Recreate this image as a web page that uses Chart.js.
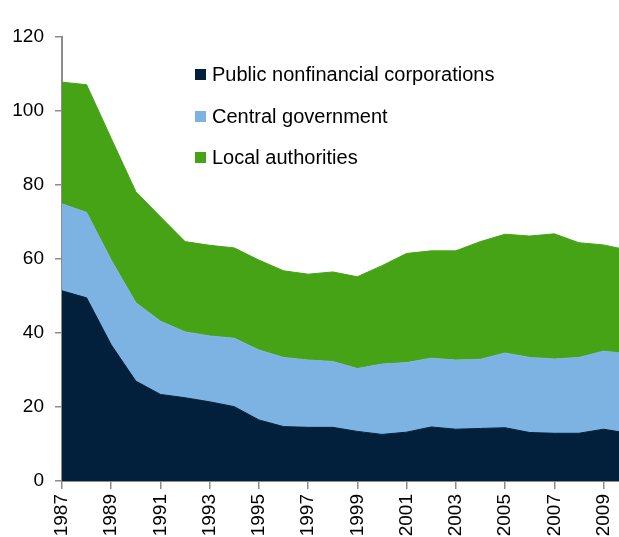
<!DOCTYPE html>
<html>
<head>
<meta charset="utf-8">
<script src="https://cdn.jsdelivr.net/npm/chart.js@4.4.1/dist/chart.umd.min.js"></script>
<style>
  html, body { margin: 0; padding: 0; background: #fff; overflow: hidden; }
  #wrap { position: relative; width: 619px; height: 537px; }
  #legend { position: absolute; left: 195px; top: 54px; font-family: "Liberation Sans", Arial, sans-serif; font-size: 20px; color: #000; }
  .item { display: flex; align-items: center; height: 41.5px; }
  .item .box { width: 11px; height: 11px; margin-right: 6px; }
</style>
</head>
<body>
<div id="wrap">
  <canvas id="c" width="619" height="537"></canvas>
  <div id="legend"></div>
</div>
<script>
const years = [1987,1988,1989,1990,1991,1992,1993,1994,1995,1996,1997,1998,1999,2000,2001,2002,2003,2004,2005,2006,2007,2008,2009,2010];
const publicNonfinancial = [51.4,49.5,36.8,27.0,23.4,22.5,21.4,20.1,16.5,14.7,14.5,14.5,13.4,12.6,13.2,14.6,14.0,14.2,14.4,13.1,12.9,12.9,14.0,12.9];
const centralGovernment = [23.5,23.1,22.9,21.2,19.8,17.8,17.8,18.5,18.9,18.7,18.2,17.8,17.0,19.0,18.8,18.6,18.7,18.7,20.2,20.3,20.1,20.5,21.1,21.5];
const localAuthorities = [32.9,34.5,32.9,30.0,28.2,24.4,24.5,24.4,24.3,23.4,23.2,24.2,24.8,26.6,29.5,29.0,29.5,31.8,32.1,32.8,33.8,31.0,28.7,28.0];
const tickYears = [1987,1989,1991,1993,1995,1997,1999,2001,2003,2005,2007,2009];
const yTicks = [0,20,40,60,80,100,120];
const seriesNames = ["Public nonfinancial corporations","Central government","Local authorities"];
const seriesColors = ["#021f3b","#7db3e3","#45a315"];

const font = { family: "'Liberation Sans', Arial, sans-serif", size: 19 };
const seriesData = [publicNonfinancial, centralGovernment, localAuthorities];

const datasets = seriesData.map((arr, i) => ({
  label: seriesNames[i],
  data: years.map((y, j) => ({ x: y, y: arr[j] })),
  backgroundColor: seriesColors[i],
  borderColor: seriesColors[i],
  borderWidth: 1,
  pointRadius: 0,
  tension: 0,
  fill: i === 0 ? 'origin' : '-1'
}));

new Chart(document.getElementById('c'), {
  type: 'line',
  data: { datasets },
  options: {
    responsive: false,
    animation: false,
    layout: { padding: { top: 37, right: 0, left: 0, bottom: 0 } },
    plugins: { legend: { display: false }, tooltip: { enabled: false } },
    scales: {
      x: {
        type: 'linear',
        min: 1987,
        max: 2009.63,
        afterBuildTicks: (s) => { s.ticks = tickYears.map(v => ({ value: v })); },
        afterFit: (s) => { s.height = 56; s.paddingLeft = 0; s.paddingRight = 0; },
        ticks: {
          autoSkip: false, maxRotation: 90, minRotation: 90, padding: 5,
          font, color: '#000',
          callback: (v) => String(v)
        },
        grid: { drawOnChartArea: false, drawTicks: true, tickLength: 8, color: '#8c8c8c', lineWidth: 1.5 },
        border: { display: true, color: '#8c8c8c', width: 2 }
      },
      y: {
        stacked: true,
        min: 0,
        max: 120,
        afterBuildTicks: (s) => { s.ticks = yTicks.map(v => ({ value: v })); },
        afterFit: (s) => { s.width = 62; },
        ticks: { font, color: '#000', padding: 11 },
        grid: { drawOnChartArea: false, drawTicks: true, tickLength: 7, color: '#8c8c8c', lineWidth: 1.5 },
        border: { display: true, color: '#8c8c8c', width: 2 }
      }
    }
  }
});

const legend = document.getElementById('legend');
seriesNames.forEach((n, i) => {
  const d = document.createElement('div');
  d.className = 'item';
  const b = document.createElement('span');
  b.className = 'box';
  b.style.background = seriesColors[i];
  const t = document.createElement('span');
  t.textContent = n;
  d.appendChild(b); d.appendChild(t);
  legend.appendChild(d);
});
</script>
</body>
</html>
